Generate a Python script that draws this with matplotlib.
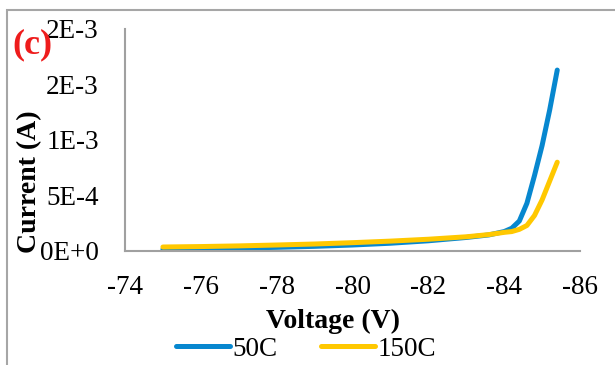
import matplotlib.pyplot as plt
from matplotlib.patches import Rectangle
from matplotlib.lines import Line2D

# reverse bias sweep, current in A
voltage = [-75, -76, -77, -78, -79, -80, -81, -82, -83, -83.6, -84, -84.2,
           -84.4, -84.6, -84.8, -85.0, -85.2, -85.4]
i_50C = [1.5e-5, 2.0e-5, 2.6e-5, 3.3e-5, 4.2e-5, 5.4e-5, 7.0e-5, 9.2e-5, 1.22e-4,
         1.45e-4, 1.75e-4, 2.05e-4, 2.7e-4, 4.3e-4, 6.8e-4, 9.5e-4, 1.27e-3, 1.63e-3]
i_150C = [3.6e-5, 4.0e-5, 4.6e-5, 5.4e-5, 6.3e-5, 7.5e-5, 8.9e-5, 1.06e-4, 1.28e-4,
          1.48e-4, 1.68e-4, 1.75e-4, 1.95e-4, 2.3e-4, 3.2e-4, 4.6e-4, 6.3e-4, 8.0e-4]

xticks = [-74, -76, -78, -80, -82, -84, -86]
yticks = [0, 5e-4, 1e-3, 1.5e-3, 2e-3]
ytick_labels = ["0E+0", "5E-4", "1E-3", "2E-3", "2E-3"]

plt.rcParams['font.family'] = ['Liberation Serif', 'DejaVu Serif']

c_blue = "#0787cf"
c_yellow = "#ffc800"
grey = "#a0a0a0"

fig = plt.figure(figsize=(6.15, 3.65), dpi=100)

# chart area frame
fig.patches.append(Rectangle((7/615, -0.1), 1.2, 1 - 10/365 + 0.1,
                             transform=fig.transFigure, fill=False,
                             edgecolor="#a6a6a6", lw=1.5, zorder=0))

ax = fig.add_axes([125/615, 1 - 251/365, 455/615, 222/365])
ax.plot(voltage, i_50C, color=c_blue, lw=3.6, solid_capstyle="round",
        solid_joinstyle="round", label="50C")
ax.plot(voltage, i_150C, color=c_yellow, lw=3.6, solid_capstyle="round",
        solid_joinstyle="round", label="150C")

ax.set_xlim(-74, -86)
ax.set_ylim(0, 2e-3)
ax.set_xticks(xticks)
ax.set_xticklabels([str(v) for v in xticks])
ax.set_yticks(yticks)
ax.set_yticklabels(ytick_labels)
ax.tick_params(axis="both", length=0, labelsize=19.5)
ax.tick_params(axis="y", pad=19)
ax.tick_params(axis="x", pad=17)

for s in ["top", "right"]:
    ax.spines[s].set_visible(False)
for s in ["left", "bottom"]:
    ax.spines[s].set_color(grey)
    ax.spines[s].set_linewidth(1.5)

fig.text(333/615, 1 - 321/365, "Voltage (V)", fontsize=20, fontweight="bold",
         ha="center", va="center")
fig.text(30/615, 1 - 182/365, "Current (A)", fontsize=20, fontweight="bold",
         ha="center", va="center", rotation=90)
fig.text(32/615, 1 - 45/365, "(c)", fontsize=26, fontweight="bold",
         color="#ee1c1c", ha="center", va="center")

handles = [Line2D([], [], color=c_blue, lw=3.6, solid_capstyle="round"),
           Line2D([], [], color=c_yellow, lw=3.6, solid_capstyle="round")]
fig.legend(handles, ["50C", "150C"], loc="center",
           bbox_to_anchor=(306/615, 1 - 349/365), ncol=2, frameon=False,
           fontsize=19.5, handlelength=2.0, handletextpad=0.1,
           columnspacing=1.6, borderpad=0, borderaxespad=0)

fig.savefig("out.png", dpi=100)
